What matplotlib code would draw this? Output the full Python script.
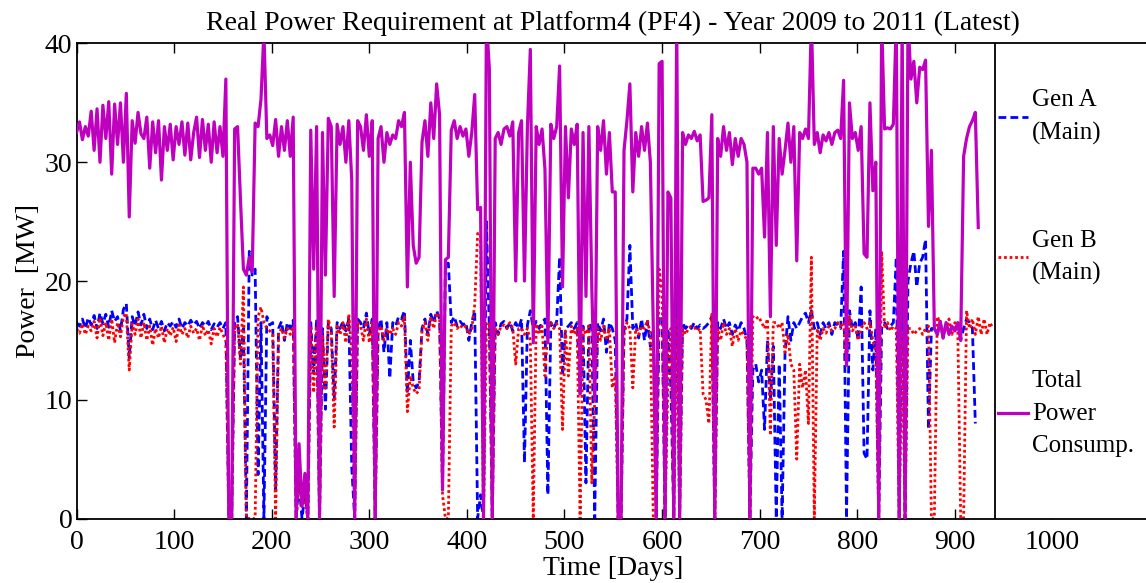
import numpy as np
import matplotlib
matplotlib.use("Agg")
import matplotlib.pyplot as plt
from matplotlib.patches import Rectangle
from matplotlib.lines import Line2D

plt.rcParams['font.family'] = ['Liberation Serif', 'DejaVu Serif']

nan = np.nan
DAY_STEP = 3  # one reading every 3 days

# Total power consumption [MW], rows of 10 readings (30 days)
total_power = [
    32.5, 33.4, 31.9, 33.0, 32.2, 34.3, 31.0, 34.5, 30.0, 34.8,
    32.0, 35.1, 29.0, 34.9, 31.5, 35.0, 30.0, 35.8, 25.4, 33.5,
    31.6, 34.2, 32.4, 32.0, 33.8, 29.5, 33.4, 30.8, 33.5, 28.5,
    33.0, 31.0, 33.2, 30.2, 33.0, 31.5, 33.4, 30.6, 33.3, 30.2,
    32.5, 33.8, 30.4, 33.6, 31.0, 33.2, 30.0, 33.4, 30.8, 33.0,
    30.5, 37.0, 0.0, 0.0, 32.8, 33.0, 26.8, 21.0, 20.5, 22.0,
    20.8, 33.3, 33.0, 35.3, 41.0, 32.0, 32.3, 31.4, 33.6, 30.5,
    33.0, 31.0, 33.5, 30.5, 33.8, 0.0, 6.3, 1.0, 3.8, 0.0,
    32.7, 21.0, 33.0, 0.0, 32.5, 20.5, 33.7, 33.0, 18.7, 33.2,
    31.5, 33.0, 30.0, 33.5, 28.5, 0.0, 33.5, 33.0, 31.0, 34.0,
    30.5, 33.5, 0.0, 32.0, 33.0, 30.0, 32.5, 31.5, 32.3, 32.0,
    33.5, 33.0, 34.2, 19.5, 30.0, 23.0, 21.5, 22.0, 31.7, 33.5,
    30.5, 35.0, 32.0, 36.6, 34.0, 2.4, 21.8, 22.0, 32.7, 33.5,
    32.0, 33.0, 32.2, 32.8, 30.5, 32.5, 35.7, 26.0, 26.2, 0.0,
    42.0, 37.9, 0.0, 32.0, 32.5, 31.5, 32.8, 33.0, 32.2, 33.4,
    20.0, 32.5, 33.5, 20.0, 33.0, 39.5, 14.8, 33.0, 31.5, 32.8,
    29.4, 14.8, 33.2, 32.0, 33.0, 38.1, 19.5, 33.0, 27.0, 32.8,
    31.5, 33.2, 10.5, 32.5, 18.7, 33.0, 19.4, 10.0, 33.0, 31.0,
    33.5, 29.0, 32.5, 27.5, 27.5, 0.0, 0.0, 31.0, 33.5, 36.6,
    27.5, 32.5, 30.5, 33.0, 31.0, 33.3, 30.0, 16.0, 0.0, 38.3,
    38.5, 0.0, 27.5, 27.0, 0.0, 42.0, 0.0, 32.5, 31.5, 32.3,
    32.0, 32.6, 31.8, 32.3, 26.7, 26.8, 27.0, 34.0, 0.0, 32.0,
    30.5, 33.0, 31.0, 32.5, 29.8, 32.0, 30.5, 32.0, 31.5, 30.0,
    0.0, 29.5, 29.5, 29.0, 29.5, 23.7, 32.5, 17.0, 33.0, 23.0,
    32.0, 29.0, 31.0, 33.3, 30.0, 33.0, 21.7, 32.5, 32.0, 32.8,
    32.0, 42.0, 31.5, 32.5, 30.8, 32.3, 31.8, 32.5, 31.5, 32.5,
    32.7, 32.0, 36.9, 12.9, 35.0, 32.0, 32.5, 31.0, 33.0, 22.3,
    22.0, 35.0, 27.6, 30.0, 0.0, 42.0, 32.8, 32.9, 32.8, 33.2,
    42.0, 0.0, 42.0, 0.0, 42.0, 37.0, 38.5, 35.0, 38.0, 37.8,
    38.6, 24.6, 31.0, 16.0, 15.5, 16.6, 15.2, 16.5, 15.5, 16.2,
    15.8, 16.5, 15.0, 30.5, 32.0, 33.0, 33.5, 34.2, 24.5, nan,
    nan, nan, nan, nan,
]

# Generator A (main) real power [MW]
gen_a = [
    16.5, 16.2, 16.8, 16.0, 16.9, 16.3, 17.1, 16.0, 17.3, 16.4,
    17.2, 16.1, 17.5, 16.6, 17.0, 15.8, 17.6, 18.1, 13.5, 17.0,
    16.2, 17.4, 16.3, 17.2, 16.0, 16.8, 15.9, 16.7, 16.0, 16.6,
    15.8, 16.5, 16.2, 16.6, 16.1, 16.8, 16.0, 16.5, 16.2, 16.7,
    16.3, 16.6, 16.0, 16.5, 16.2, 16.6, 15.9, 16.4, 16.1, 16.5,
    16.0, 16.5, 0.0, 0.0, 16.5, 17.0, 13.4, 16.0, 0.0, 22.5,
    20.5, 21.0, 3.7, 16.5, 0.0, 17.0, 16.3, 16.5, 2.4, 16.0,
    16.6, 15.0, 16.5, 16.0, 16.7, 0.0, 3.0, 0.0, 2.0, 0.0,
    16.5, 12.2, 16.8, 0.0, 16.0, 9.2, 16.5, 16.0, 10.0, 16.5,
    16.0, 16.6, 15.8, 16.8, 4.3, 0.0, 16.8, 16.5, 16.0, 17.3,
    15.5, 16.8, 0.0, 16.0, 16.8, 14.0, 16.5, 11.8, 16.5, 16.2,
    17.0, 16.8, 17.5, 10.5, 15.0, 11.5, 11.0, 11.5, 16.0, 16.8,
    15.5, 17.2, 16.5, 17.5, 16.8, 2.4, 21.5, 21.5, 16.5, 17.0,
    16.2, 16.6, 16.3, 16.5, 15.0, 16.5, 17.5, 0.0, 2.0, 0.0,
    25.0, 16.0, 0.0, 16.5, 15.5, 16.4, 16.6, 16.0, 16.5, 15.8,
    16.5, 16.0, 16.8, 4.7, 16.3, 17.5, 16.0, 16.6, 16.0, 16.5,
    16.8, 2.0, 16.5, 16.0, 16.6, 22.0, 12.0, 16.0, 16.2, 16.5,
    16.0, 16.5, 10.5, 16.2, 3.0, 16.5, 16.0, 0.0, 16.5, 15.8,
    16.8, 14.0, 16.5, 16.0, 15.0, 0.0, 0.0, 16.0, 16.8, 23.0,
    16.0, 16.5, 15.2, 16.8, 15.0, 16.6, 14.5, 16.0, 0.0, 17.0,
    17.0, 0.0, 16.0, 11.0, 0.0, 23.0, 0.0, 16.5, 16.0, 16.3,
    16.0, 16.5, 16.0, 16.3, 16.0, 16.2, 16.5, 17.0, 0.0, 16.5,
    16.0, 16.8, 16.0, 16.5, 15.5, 16.3, 15.8, 16.5, 16.0, 15.0,
    0.0, 12.5, 13.0, 11.5, 12.5, 7.5, 15.0, 10.0, 14.5, 0.0,
    13.0, 0.0, 14.0, 17.0, 15.0, 16.5, 16.0, 16.5, 17.0, 17.3,
    16.5, 17.5, 16.0, 16.5, 15.5, 16.5, 16.0, 16.5, 15.5, 16.5,
    16.3, 16.0, 22.5, 0.0, 17.5, 16.0, 16.5, 15.0, 19.5, 5.5,
    5.0, 17.5, 12.5, 16.0, 0.0, 16.0, 16.5, 16.0, 16.2, 16.5,
    22.0, 0.0, 22.0, 0.0, 20.0, 21.5, 22.5, 19.5, 21.5, 22.0,
    23.5, 7.5, 16.0, 16.0, 15.5, 16.6, 15.2, 16.5, 15.5, 16.2,
    15.8, 16.5, 15.0, 16.0, 16.8, 16.5, 16.0, 8.0, nan, nan,
    nan, nan, nan, nan,
]

# Generator B (main) real power [MW]
gen_b = [
    16.0, 15.6, 16.4, 15.5, 16.2, 15.8, 16.6, 15.2, 16.9, 15.4,
    16.5, 15.0, 16.8, 14.8, 16.5, 15.3, 17.0, 17.3, 12.5, 16.4,
    15.5, 16.8, 15.2, 16.5, 15.0, 16.2, 14.6, 16.0, 15.2, 16.2,
    14.8, 16.0, 15.4, 16.1, 14.9, 16.3, 15.5, 16.0, 15.2, 16.2,
    15.6, 16.0, 15.0, 16.3, 15.4, 15.9, 14.7, 16.0, 15.3, 16.1,
    15.5, 15.0, 0.0, 0.0, 16.0, 16.4, 13.0, 19.5, 0.0, 0.0,
    0.0, 0.0, 17.0, 17.8, 16.5, 16.0, 15.8, 15.5, 0.0, 15.5,
    16.0, 15.2, 16.0, 15.5, 16.2, 0.0, 3.3, 1.0, 1.8, 0.0,
    16.2, 10.6, 16.2, 0.0, 15.5, 11.0, 16.8, 15.6, 7.7, 16.2,
    15.5, 16.5, 14.8, 17.2, 14.0, 0.0, 16.5, 16.2, 15.0, 16.8,
    14.8, 16.6, 0.0, 15.8, 16.2, 15.0, 16.0, 15.5, 16.0, 15.5,
    16.5, 16.2, 17.0, 9.0, 12.0, 11.0, 10.5, 10.8, 15.8, 16.5,
    15.0, 17.0, 16.0, 17.3, 17.0, 2.0, 0.0, 0.0, 16.2, 16.5,
    16.0, 16.3, 16.0, 16.2, 15.5, 16.0, 18.0, 24.0, 24.0, 0.0,
    16.0, 16.5, 0.0, 16.0, 15.5, 16.2, 16.3, 16.0, 16.5, 16.0,
    13.0, 16.0, 16.0, 15.5, 16.0, 15.0, 0.0, 16.4, 15.5, 16.2,
    12.0, 16.0, 16.5, 16.0, 16.4, 16.0, 7.5, 15.8, 12.0, 16.2,
    15.5, 16.0, 0.0, 16.0, 15.5, 16.2, 3.0, 10.0, 16.0, 15.0,
    16.2, 15.0, 16.0, 11.0, 12.0, 0.0, 0.0, 15.5, 16.5, 16.0,
    11.0, 16.0, 15.5, 16.2, 16.0, 16.7, 15.5, 0.0, 0.0, 21.0,
    19.0, 0.0, 11.5, 16.0, 0.0, 17.0, 0.0, 16.0, 15.5, 16.0,
    16.2, 16.1, 15.8, 16.0, 10.5, 10.0, 8.0, 17.2, 0.0, 16.0,
    15.0, 16.5, 15.5, 16.0, 14.5, 16.0, 15.0, 15.8, 15.5, 15.0,
    0.0, 17.0, 16.8, 17.0, 16.5, 16.0, 16.8, 7.0, 16.5, 16.5,
    16.0, 16.5, 14.0, 15.5, 13.0, 12.5, 5.0, 13.0, 11.0, 12.5,
    8.0, 22.0, 0.0, 16.0, 15.0, 16.0, 15.6, 16.2, 15.8, 16.0,
    16.5, 16.2, 16.5, 12.9, 17.0, 15.8, 16.2, 15.0, 16.0, 16.5,
    16.0, 16.5, 15.0, 14.0, 0.0, 22.5, 16.0, 16.5, 15.8, 16.2,
    16.0, 0.0, 15.5, 0.0, 16.0, 16.0, 15.5, 15.8, 16.0, 15.5,
    16.0, 16.2, 0.0, 0.0, 17.0, 16.5, 15.5, 16.0, 16.8, 15.5,
    16.5, 16.0, 0.0, 0.0, 17.5, 16.0, 16.8, 15.5, 17.0, 15.5,
    16.8, 15.5, 16.5, 16.0,
]

x_ticks = [0, 100, 200, 300, 400, 500, 600, 700, 800, 900, 1000]
y_ticks = [0, 10, 20, 30, 40]
labels = ["Gen A\n(Main)", "Gen B\n(Main)", "Total\nPower\nConsump."]
title = "Real Power Requirement at Platform4 (PF4) - Year 2009 to 2011 (Latest)"

days_total = np.arange(len(total_power)) * DAY_STEP
days_a = np.arange(len(gen_a)) * DAY_STEP
days_b = np.arange(len(gen_b)) * DAY_STEP

c_a, c_b, c_t = "#0000FF", "#FF0000", "#BF00BF"

fig = plt.figure(figsize=(11.46, 5.83), dpi=100)
ax = fig.add_axes([0.0668, 0.1106, 0.9367, 0.8148])

ax.plot(days_a, gen_a, color=c_a, lw=2.0, dashes=(2.8, 1.5), zorder=2)
ax.plot(days_b, gen_b, color=c_b, lw=2.0, dashes=(1.0, 1.0), zorder=2)
ax.plot(days_total, total_power, color=c_t, lw=2.3, zorder=3)

ax.set_xlim(0, 1100)
ax.set_ylim(0, 40)
ax.set_xticks(x_ticks)
ax.set_yticks(y_ticks)
ax.tick_params(direction="in", length=7, width=1.0, top=True, right=False,
               labelsize=20, pad=8)
ax.tick_params(axis="y", pad=3)
for s in ["left", "bottom", "top"]:
    ax.spines[s].set_linewidth(1.3)
ax.spines["right"].set_visible(False)

ax.set_xlabel("Time [Days]", fontsize=20, labelpad=1)
ax.set_ylabel("Power  [MW]", fontsize=20, labelpad=3)
ax.set_title(title, fontsize=20, pad=10)

# legend panel on the right side
box_x0 = 0.8556
ax.add_patch(Rectangle((box_x0, 0), 0.3, 1, transform=ax.transAxes,
                       facecolor="white", edgecolor="black", lw=1.3,
                       zorder=5, clip_on=True))
handles = [Line2D([], [], color=c_a, lw=2.0, dashes=(2.8, 1.5)),
           Line2D([], [], color=c_b, lw=2.0, dashes=(1.0, 1.0)),
           Line2D([], [], color=c_t, lw=2.3)]
leg = ax.legend(handles, labels, loc="upper left",
                bbox_to_anchor=(box_x0 + 0.003, 0.904), frameon=False,
                fontsize=18, handlelength=1.2, handletextpad=0.15,
                labelspacing=3.4, borderpad=0, borderaxespad=0)
for t in leg.get_texts():
    t.set_linespacing(1.6)
leg.set_zorder(6)

fig.savefig("out.png", dpi=100)
